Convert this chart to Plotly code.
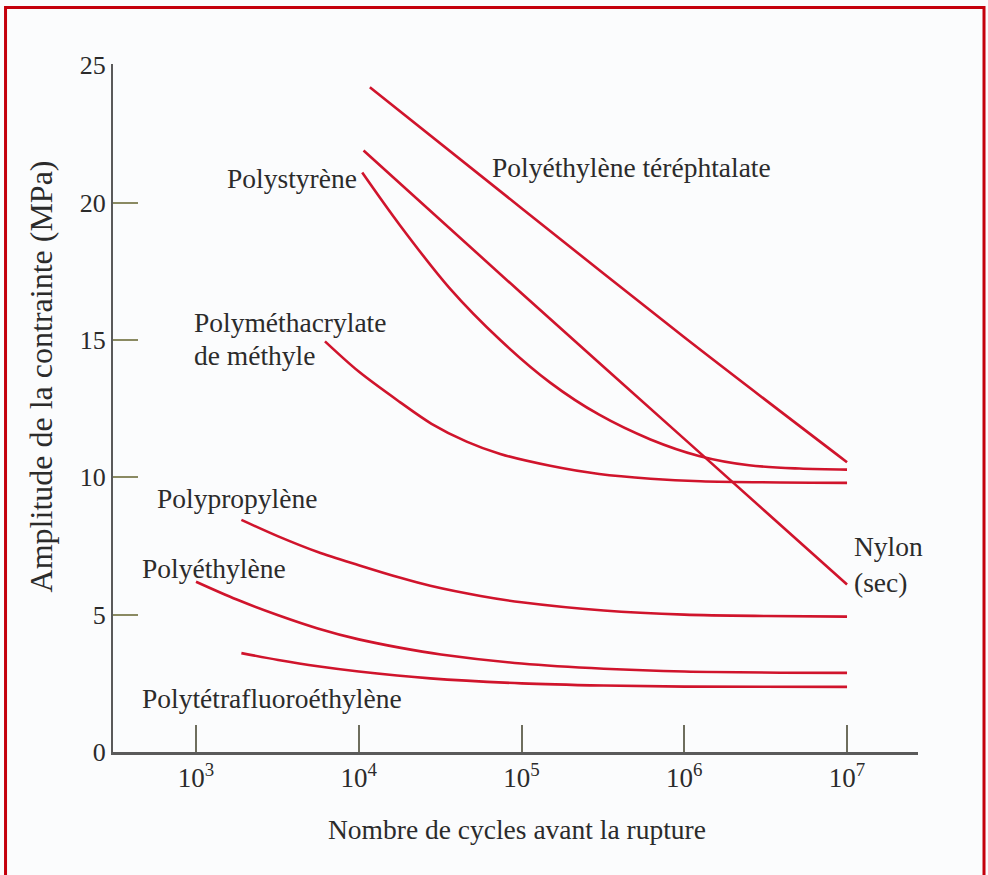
import plotly.graph_objects as go

# ---- data ----
# x: number of cycles to failure, y: stress amplitude (MPa)
pet_x = [1.17e4, 1e5, 1e6, 1e7]
pet_y = [24.2, 19.8, 15.1, 10.55]

nylon_x = [1.07e4, 1e5, 1e6, 1e7]
nylon_y = [21.9, 16.7, 11.4, 6.1]

ps_x = [1.05e4, 1.78e4, 3.6e4, 7.4e4, 1.5e5, 3.0e5, 6.2e5, 1.23e6, 2.5e6, 5.1e6, 1e7]
ps_y = [21.1, 19.2, 16.9, 15.0, 13.45, 12.28, 11.38, 10.78, 10.44, 10.32, 10.28]

pmma_x = [6.2e3, 1.0e4, 1.78e4, 2.8e4, 4.6e4, 7.4e4, 1.5e5, 3.0e5, 6.2e5, 1.26e6, 1e7]
pmma_y = [14.95, 13.85, 12.75, 11.95, 11.3, 10.85, 10.42, 10.12, 9.95, 9.86, 9.8]

pp_x = [1.9e3, 3.2e3, 5.6e3, 1e4, 1.78e4, 2.75e4, 5.6e4, 1e5, 3.2e5, 1e6, 3.2e6, 1e7]
pp_y = [8.45, 7.85, 7.28, 6.8, 6.35, 6.05, 5.68, 5.45, 5.15, 5.0, 4.95, 4.93]

pe_x = [1e3, 1.78e3, 3.2e3, 5.6e3, 1e4, 1.78e4, 3.2e4, 1e5, 3.2e5, 1e6, 1e7]
pe_y = [6.2, 5.55, 4.98, 4.5, 4.1, 3.8, 3.55, 3.22, 3.03, 2.93, 2.88]

ptfe_x = [1.9e3, 3.2e3, 5.6e3, 1e4, 2.75e4, 1e5, 3.2e5, 1e6, 1e7]
ptfe_y = [3.6, 3.35, 3.12, 2.93, 2.68, 2.5, 2.42, 2.38, 2.37]

series = [
    ("Polyéthylène téréphtalate", pet_x, pet_y),
    ("Nylon (sec)", nylon_x, nylon_y),
    ("Polystyrène", ps_x, ps_y),
    ("Polyméthacrylate de méthyle", pmma_x, pmma_y),
    ("Polypropylène", pp_x, pp_y),
    ("Polyéthylène", pe_x, pe_y),
    ("Polytétrafluoroéthylène", ptfe_x, ptfe_y),
]

x_tickvals = [1e3, 1e4, 1e5, 1e6, 1e7]
x_ticktext = ["10<sup>3</sup>", "10<sup>4</sup>", "10<sup>5</sup>", "10<sup>6</sup>", "10<sup>7</sup>"]
y_tickvals = [0, 5, 10, 15, 20, 25]
y_ticktext = ["0", "5", "10", "15", "20", "25"]
y_tickmarks = [5, 10, 15, 20]

# labels: (text, paper x, paper y, xanchor)
labels = [
    ("Polyéthylène téréphtalate", 0.468, 0.849, "left"),
    ("Polystyrène", 0.306, 0.834, "right"),
    ("Polyméthacrylate", 0.098, 0.625, "left"),
    ("de méthyle", 0.098, 0.577, "left"),
    ("Polypropylène", 0.052, 0.368, "left"),
    ("Polyéthylène", 0.033, 0.266, "left"),
    ("Polytétrafluoroéthylène", 0.033, 0.078, "left"),
    ("Nylon", 0.918, 0.298, "left"),
    ("(sec)", 0.918, 0.247, "left"),
]

FONT = "Liberation Serif, Times New Roman, serif"
TXT = "#2b2b2b"
RED = "#d0142c"

fig = go.Figure()
for name, xs, ys in series:
    fig.add_trace(go.Scatter(
        x=xs, y=ys, mode="lines", name=name,
        line=dict(color=RED, width=2.6, shape="spline", smoothing=0.9),
        showlegend=False, hoverinfo="skip",
    ))

for text, px, py, xa in labels:
    fig.add_annotation(text=text, x=px, y=py, xref="paper", yref="paper",
                       xanchor=xa, yanchor="middle", showarrow=False,
                       font=dict(family=FONT, size=27.5, color=TXT))

# axis titles as annotations
fig.add_annotation(text="Nombre de cycles avant la rupture", x=0.502, y=-0.113,
                   xref="paper", yref="paper", xanchor="center", yanchor="middle",
                   showarrow=False, font=dict(family=FONT, size=27.5, color=TXT))
fig.add_annotation(text="Amplitude de la contrainte (MPa)", x=-0.0894, y=0.546,
                   xref="paper", yref="paper", xanchor="center", yanchor="middle",
                   textangle=-90, showarrow=False,
                   font=dict(family=FONT, size=32, color=TXT))

# red frame round the picture
fig.add_shape(type="rect", xref="paper", yref="paper",
              x0=-0.1335, x1=1.082, y0=-0.1825, y1=1.0821,
              line=dict(color="#c4000c", width=3), fillcolor="rgba(0,0,0,0)")

fig.update_layout(
    width=988, height=875,
    margin=dict(l=113, r=70, t=64, b=123),
    paper_bgcolor="#fbfcfd", plot_bgcolor="#fbfcfd",
    font=dict(family=FONT, size=26, color=TXT),
)
fig.update_xaxes(
    type="log", range=[2.49, 7.436],
    tickvals=x_tickvals, ticktext=x_ticktext,
    ticks="inside", ticklen=27, tickwidth=1.5, tickcolor="#6e6e5e",
    showline=True, linecolor="#5a5a5a", linewidth=2.5,
    showgrid=False, zeroline=False, tickfont=dict(family=FONT, size=27, color=TXT),
)
fig.update_yaxes(
    range=[0, 25.05],
    tickvals=y_tickvals, ticktext=y_ticktext, ticks="",
    minor=dict(tickvals=y_tickmarks, ticks="inside", ticklen=25,
               tickwidth=1.5, tickcolor="#8a8a62", showgrid=False),
    showline=True, linecolor="#5a5a5a", linewidth=2,
    showgrid=False, zeroline=False, tickfont=dict(family=FONT, size=26, color=TXT),
)

fig.write_html("out.html", config={"displayModeBar": False},
               post_script="document.body.style.margin='0px';")
